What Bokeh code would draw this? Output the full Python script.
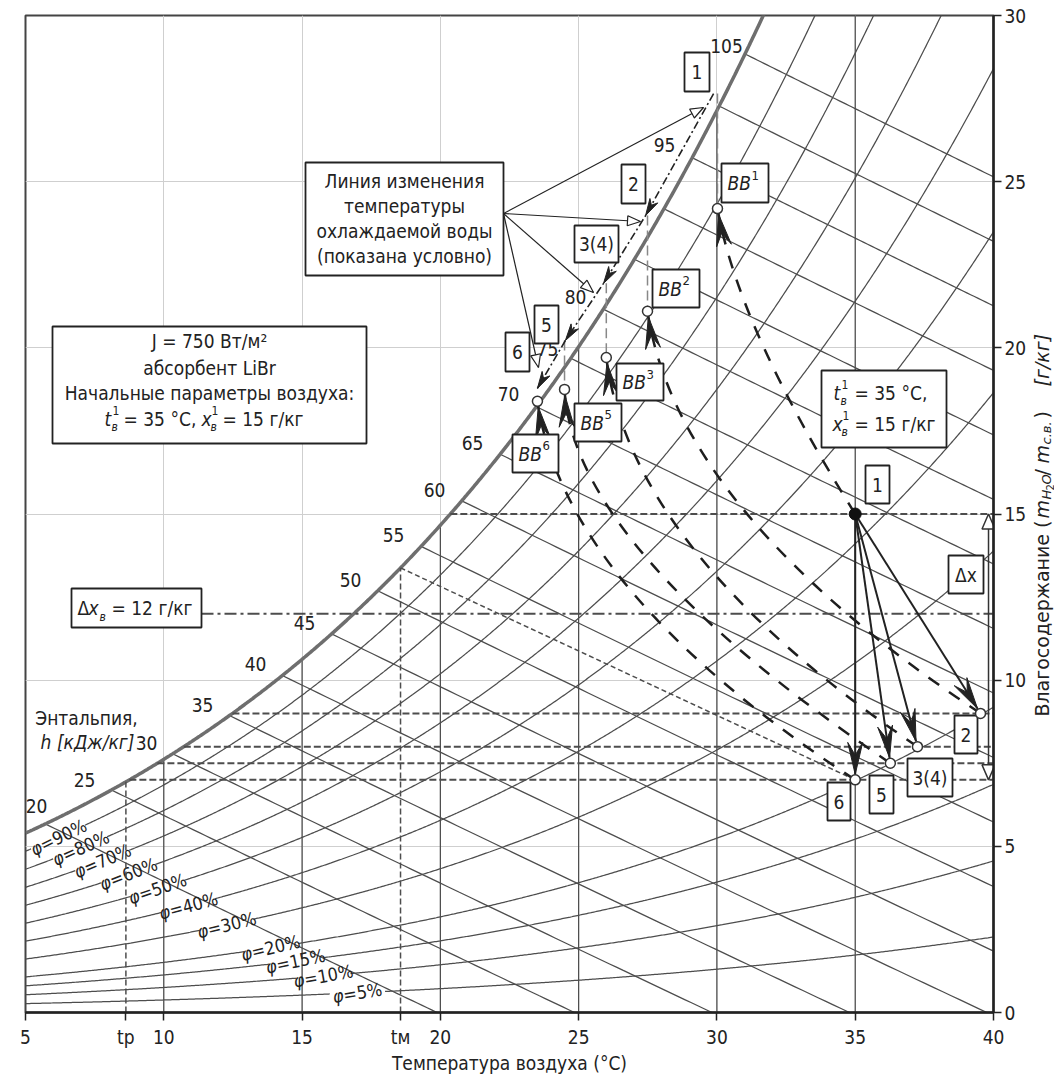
import math
import numpy as np
from bokeh.plotting import figure
from bokeh.layouts import row
from bokeh.models import Range1d, FixedTicker
from bokeh.core.properties import value
from bokeh.embed import file_html
from bokeh.resources import INLINE

# ---------------- chart values ----------------
P_ATM = 101.325                       # barometric pressure, kPa
t_ticks = [5, 10, 15, 20, 25, 30, 35, 40]
x_ticks = [0, 5, 10, 15, 20, 25, 30]
isotherms = [10, 15, 20, 25, 30, 35]

rh_levels = [90, 80, 70, 60, 50, 40, 30, 20, 15, 10, 5]
rh_label_t = [6.19, 6.99, 7.78, 8.72, 9.77, 10.89, 12.27, 13.86, 14.76, 15.77, 17.00]
rh_label_deg = [26, 24, 23, 21, 19, 15, 14, 13, 12, 10, 9]

h_levels = list(range(20, 110, 5))
h_label_text = ["20", "25", "30", "35", "40", "45", "50", "55", "60", "65", "70", "75", "80",
                "95", "105"]

# air states after the absorber
air_names = ["1", "2", "3(4)", "5", "6"]
air_t = [35.0, 39.53, 37.25, 36.27, 35.0]
air_x = [15.0, 9.0, 8.0, 7.5, 7.0]

# air states at the outlet of the cooler (BB)
bb_names = ["1", "2", "3", "5", "6"]
bb_t = [30.02, 27.49, 26.0, 24.49, 23.51]
bb_x = [24.19, 21.10, 19.71, 18.75, 18.39]

# cooled-water temperature line
water_names = ["1", "2", "3(4)", "5", "6"]
water_t = [29.88, 27.42, 25.90, 24.52, 23.51]
water_x = [27.65, 23.98, 21.94, 20.22, 18.78]

# bend points of the curves air n -> BB n
bend_t = [30.78, 28.57, 26.88, 24.81, 24.52]
bend_x = [20.61, 15.05, 13.84, 13.96, 12.70]

x_levels = [15.0, 9.0, 8.0, 7.5, 7.0]   # dashed moisture levels, g/kg
x_delta_line = 12.0                     # dash-dot level, g/kg
t_dew = 8.63                            # t_р
t_wet = 18.56                           # t_м
dx_arrow_t = 39.82
dx_arrow_x = [15.0, 7.0]

# ---------------- geometry ----------------
FW, FH = 968, 997
L0, T0 = 25, 15
RB, BB_ = 36, 60
PW = L0 + FW + RB          # width of the main figure
SIDE_W = 1054 - PW
PH = T0 + FH + BB_
SX = FW / 35.0
SY = FH / 30.0
COND = "DejaVu Sans Condensed"
PLAIN = "DejaVu Sans"
INK = "#222222"
LINE = "#4d4d4d"


def cx(px):
    return 5 + (px - L0) / SX


def cy(py):
    return (T0 + FH - py) / SY


def p_ws(t):
    return 0.61094 * np.exp(17.625 * t / (t + 243.04))


def x_of(phi, t):
    pw = phi * p_ws(t)
    return 622.0 * pw / (P_ATM - pw)


def t_dew_of(x):
    pw = x * P_ATM / (622.0 + x)
    a = math.log(pw / 0.61094)
    return 243.04 * a / (17.625 - a)


def h_of(t, x):
    return 1.006 * t + x * (2501 + 1.86 * t) / 1000.0


def t_sat_h(h):
    lo, hi = -10.0, 60.0
    for _ in range(60):
        mid = 0.5 * (lo + hi)
        if h_of(mid, float(x_of(1.0, mid))) < h:
            lo = mid
        else:
            hi = mid
    return 0.5 * (lo + hi)


p = figure(frame_width=FW, frame_height=FH, x_range=Range1d(5, 40), y_range=Range1d(0, 30),
           y_axis_location="right", toolbar_location=None, output_backend="svg", title=None,
           min_border_left=L0, min_border_top=T0, min_border_right=RB, min_border_bottom=BB_)
p.background_fill_color = "white"
p.border_fill_color = "white"
p.outline_line_color = "#444444"
p.outline_line_width = 2

p.xgrid.ticker = FixedTicker(ticks=t_ticks)
p.ygrid.ticker = FixedTicker(ticks=x_ticks)
p.grid.grid_line_color = "#cfcfcf"
p.grid.grid_line_width = 1

p.xaxis.ticker = FixedTicker(ticks=t_ticks + [t_dew, t_wet])
p.xaxis.major_label_overrides = {t_dew: "tр", t_wet: "tм"}
p.yaxis.ticker = FixedTicker(ticks=x_ticks)
for ax in (p.xaxis, p.yaxis):
    ax.major_tick_out = 8
    ax.major_tick_in = 0
    ax.minor_tick_out = 0
    ax.minor_tick_in = 0
    ax.axis_line_color = INK
    ax.axis_line_width = 2.5
    ax.major_tick_line_color = INK
    ax.major_tick_line_width = 1.5
    ax.major_label_text_font = COND
    ax.major_label_text_font_size = "19px"
    ax.major_label_text_color = INK
p.xaxis.major_label_standoff = 5
p.yaxis.major_label_standoff = 3
p.xaxis.axis_label = "Температура воздуха (°C)"
p.xaxis.axis_label_text_font = COND
p.xaxis.axis_label_text_font_style = "normal"
p.xaxis.axis_label_text_font_size = "19px"
p.xaxis.axis_label_text_color = INK
p.xaxis.axis_label_standoff = 1


def put(px, py, s, size=19, italic=False, align="center", base="middle", angle=0.0, font=COND):
    p.text(x=[cx(px)], y=[cy(py)], text=[s], text_font=value(font), text_font_size=f"{size}px",
           text_font_style="italic" if italic else "normal", text_align=align,
           text_baseline=base, angle=angle, text_color=INK)


def box(l, t, r, b, lw=1.8):
    p.rect(x=[cx((l + r) / 2)], y=[cy((t + b) / 2)], width=[r - l], height=[b - t],
           width_units="screen", height_units="screen", fill_color="white",
           line_color=INK, line_width=lw)


def head(tip_t, tip_x, from_t, from_x, length, width, notch, back=0.0):
    dx = (tip_t - from_t) * SX
    dy = (tip_x - from_x) * SY
    n = math.hypot(dx, dy)
    ux, uy = dx / n, dy / n
    bt = tip_t - ux * back / SX
    bx = tip_x - uy * back / SY
    nx, ny = -uy, ux
    pts = [(0.0, 0.0),
           (-ux * length + nx * width / 2, -uy * length + ny * width / 2),
           (-ux * length * (1 - notch), -uy * length * (1 - notch)),
           (-ux * length - nx * width / 2, -uy * length - ny * width / 2)]
    return [bt + a / SX for a, b in pts], [bx + b / SY for a, b in pts]


# ---------------- psychrometric grid ----------------
T = np.round(np.arange(5.0, 40.001, 0.05), 3)
for phi, tl in zip(rh_levels, rh_label_t):
    xx = x_of(phi / 100.0, T)
    xx = np.where(np.abs(T - tl) < 0.95, np.nan, xx)
    p.line(T, xx, line_color=LINE, line_width=1.25)

for h in h_levels:
    ts = t_sat_h(h)
    te = min(40.0, h / 1.006)
    tt = np.linspace(ts, te, 80)
    xx = (h - 1.006 * tt) * 1000.0 / (2501 + 1.86 * tt)
    p.line(tt, xx, line_color=LINE, line_width=1.25)

p.segment(x0=isotherms, y0=[0] * len(isotherms), x1=isotherms,
          y1=[min(30.0, float(x_of(1.0, t))) for t in isotherms], line_color=LINE, line_width=1.25)

p.line(T, x_of(1.0, T), line_color="#6e6e6e", line_width=3.5)

# enthalpy labels along the saturation curve
h_label_pos = [(36, 805), (84, 779), (146, 742), (202, 704), (255, 663), (304, 622), (350, 579),
               (393, 534), (434, 489), (472, 442), (508, 393), (547, 348), (575, 296),
               (664, 144), (726, 45)]
for s, (px, py) in zip(h_label_text, h_label_pos):
    put(px, py, s)
put(86, 717, "Энтальпия,")
put(87, 741, "h [кДж/кг]", italic=True)

# relative-humidity labels: italic phi followed by the value, rotated along the curve
CHAR_W = {"φ": 10.7, "=": 13.6, "%": 15.4}
for phi, tl, deg in zip(rh_levels, rh_label_t, rh_label_deg):
    rest = f"={phi}%"
    w_phi = CHAR_W["φ"]
    w_rest = sum(CHAR_W.get(c, 10.3) for c in rest)
    a = math.radians(deg)
    ux, uy = math.cos(a), math.sin(a)
    x_mid = float(x_of(phi / 100.0, tl))
    half = (w_phi + w_rest) / 2
    t0 = tl - half * ux / SX
    x0 = x_mid - half * uy / SY
    p.text(x=[t0], y=[x0], text=["φ"], text_font=value(COND), text_font_size="18px",
           text_font_style="italic", text_align="left", text_baseline="middle", angle=a,
           text_color=INK)
    p.text(x=[t0 + w_phi * ux / SX], y=[x0 + w_phi * uy / SY], text=[rest],
           text_font=value(COND), text_font_size="18px", text_align="left",
           text_baseline="middle", angle=a, text_color=INK)

# ---------------- construction lines ----------------
for xl in x_levels:
    p.segment(x0=[t_dew_of(xl)], y0=[xl], x1=[40], y1=[xl], line_color=LINE, line_width=2,
              line_dash="7 3")
x_wet_sat = float(x_of(1.0, t_wet))
p.segment(x0=[t_dew, t_wet], y0=[0, 0], x1=[t_dew, t_wet], y1=[float(x_of(1.0, t_dew)), x_wet_sat],
          line_color=LINE, line_width=1.5, line_dash="6 3")
p.segment(x0=[t_wet], y0=[x_wet_sat], x1=[air_t[4]], y1=[air_x[4]], line_color=LINE,
          line_width=1.5, line_dash="5 3")
p.segment(x0=[cx(201)], y0=[x_delta_line], x1=[40], y1=[x_delta_line], line_color=LINE,
          line_width=2, line_dash="12 4 3 4")

# delta-x double arrow
p.segment(x0=[dx_arrow_t], y0=[dx_arrow_x[0]], x1=[dx_arrow_t], y1=[dx_arrow_x[1]],
          line_color="#333333", line_width=1.5)
hx1, hy1 = head(dx_arrow_t, dx_arrow_x[0], dx_arrow_t, dx_arrow_x[1], 15, 13, 0.0)
hx2, hy2 = head(dx_arrow_t, dx_arrow_x[1], dx_arrow_t, dx_arrow_x[0], 15, 13, 0.0)
p.patches([hx1, hx2], [hy1, hy2], fill_color="white", line_color="#333333", line_width=1.5)

# water temperature -> BB verticals
p.segment(x0=bb_t[:4], y0=water_x[:4], x1=bb_t[:4], y1=bb_x[:4], line_color="#888888",
          line_width=1.5, line_dash="10 5")
p.line(water_t, water_x, line_color=INK, line_width=1.6, line_dash="8 3 2 3")

# callout lines from the caption box
org_t, org_x = cx(503), cy(213)
tips = [(703, 107), (640, 221), (593, 292), (538, 367)]
tip_t = [cx(a) for a, b in tips]
tip_x = [cy(b) for a, b in tips]
p.segment(x0=[org_t] * 4, y0=[org_x] * 4, x1=tip_t, y1=tip_x, line_color=INK, line_width=1.2)
hol = [head(a, b, org_t, org_x, 13, 10, 0.0) for a, b in zip(tip_t, tip_x)]
p.patches([h[0] for h in hol], [h[1] for h in hol], fill_color="white", line_color=INK,
          line_width=1.2)

# curves air n -> BB n
p.quadratic(x0=air_t, y0=air_x, x1=bb_t, y1=bb_x, cx=bend_t, cy=bend_x, line_color="#1e1e1e",
            line_width=2.5, line_dash="13 12")

# process arrows 1 -> n
ends = []
for t_e, x_e in zip(air_t[1:], air_x[1:]):
    ends.append(head(t_e, x_e, air_t[0], air_x[0], 32, 15, 0.4, back=5.5))
p.segment(x0=[air_t[0]] * 4, y0=[air_x[0]] * 4, x1=[e[0][0] for e in ends],
          y1=[e[1][0] for e in ends], line_color=INK, line_width=2)

filled = list(ends)
for i in range(5):
    filled.append(head(bb_t[i], bb_x[i], bend_t[i], bend_x[i], 32, 15, 0.4, back=5.5))
for i in range(1, 5):
    filled.append(head(water_t[i], water_x[i], water_t[i - 1], water_x[i - 1], 17, 9, 0.3))
p.patches([f[0] for f in filled], [f[1] for f in filled], fill_color=INK, line_color=INK,
          line_width=1)

# ---------------- boxes ----------------
box(305, 162, 503, 275)
box(52, 326, 366, 443)
box(71, 588, 201, 627)
box(821, 370, 946, 447)

water_boxes = [(684, 52, 709, 91), (621, 164, 645, 203), (574, 225, 618, 262),
               (534, 305, 558, 343), (505, 332, 529, 371)]
bb_boxes = [(721, 163, 768, 202), (652, 269, 699, 307), (616, 363, 663, 400),
            (574, 403, 621, 441), (512, 434, 558, 472)]
air_boxes = [(865, 465, 889, 503), (954, 715, 977, 753), (907, 758, 952, 796),
             (869, 775, 893, 813), (827, 782, 850, 820)]
for b in water_boxes + bb_boxes + air_boxes:
    box(*b)
box(948, 555, 983, 593)

# ---------------- markers ----------------
p.scatter(air_t[1:] + bb_t, air_x[1:] + bb_x, size=10, marker="circle", fill_color="white",
          line_color="#333333", line_width=1.5)
p.scatter([air_t[0]], [air_x[0]], size=12, marker="circle", fill_color="#111111",
          line_color="#111111")

# ---------------- texts ----------------
for s, py in zip(["Линия изменения", "температуры", "охлаждаемой воды", "(показана условно)"],
                 [180, 205, 230, 255]):
    put(404, py, s)

put(209, 340, "J = 750 Вт/м²")
put(209, 367, "абсорбент LiBr")
put(209, 392, "Начальные параметры воздуха:")


def sym(px, py, main, w):
    put(px, py, main, italic=True, align="left")
    put(px + w + 1, py - 8, "1", size=12, align="left")
    put(px + w, py + 8, "в", size=12, italic=True, align="left")


sym(104, 418, "t", 7)
put(123, 418, "= 35 °C,", align="left")
sym(201, 418, "x", 9)
put(222, 418, "= 15 г/кг", align="left")

sym(833, 392, "t", 7)
put(854, 392, "= 35 °C,", align="left")
sym(832, 423, "x", 9)
put(854, 423, "= 15 г/кг", align="left")

put(77, 607, "Δ", align="left")
put(88, 607, "x", italic=True, align="left")
put(99, 616, "в", size=12, italic=True, align="left")
put(111, 607, "= 12 г/кг", align="left")

for s, b in zip(water_names, water_boxes):
    put((b[0] + b[2]) / 2, (b[1] + b[3]) / 2, s)
for s, b in zip(air_names, air_boxes):
    put((b[0] + b[2]) / 2, (b[1] + b[3]) / 2, s)
for s, b in zip(bb_names, bb_boxes):
    mid = (b[1] + b[3]) / 2
    put(b[0] + 6, mid, "BB", italic=True, align="left")
    put(b[0] + 30, mid - 8, s, size=13, align="left")
put(965.5, 574, "Δx")

# ---------------- moisture-content axis title (narrow strip on the right) ----------------
side = figure(frame_width=SIDE_W, frame_height=PH, x_range=Range1d(0, SIDE_W),
              y_range=Range1d(0, PH), min_border=0, min_border_left=0, min_border_right=0,
              min_border_top=0, min_border_bottom=0, toolbar_location=None, title=None,
              output_backend="svg", x_axis_location=None, y_axis_location=None)
side.outline_line_color = None
side.background_fill_color = "white"
side.border_fill_color = "white"
side.xgrid.visible = False
side.ygrid.visible = False


def vput(xpx, ypx, s, size, italic=False, align="left"):
    side.text(x=[xpx - PW], y=[PH - ypx], text=[s], text_font=value(PLAIN),
              text_font_size=f"{size}px", text_font_style="italic" if italic else "normal",
              text_align=align, text_baseline="middle", angle=math.pi / 2, text_color=INK)


vput(1041, 505, "Влагосодержание (", 19, align="right")
vput(1041, 503, "m", 19, italic=True)
vput(1046, 484, "H", 13, italic=True)
vput(1049, 475, "2", 10)
vput(1046, 469, "O", 13, italic=True)
vput(1041, 460, "/", 19)
vput(1041, 448, "m", 19, italic=True)
vput(1046, 429, "с.в.", 13, italic=True)
vput(1041, 403, ")", 19)
vput(1041, 371, "[г/кг]", 19, italic=True)

page = row(p, side)
open("out.html", "w").write(file_html(page, INLINE))
